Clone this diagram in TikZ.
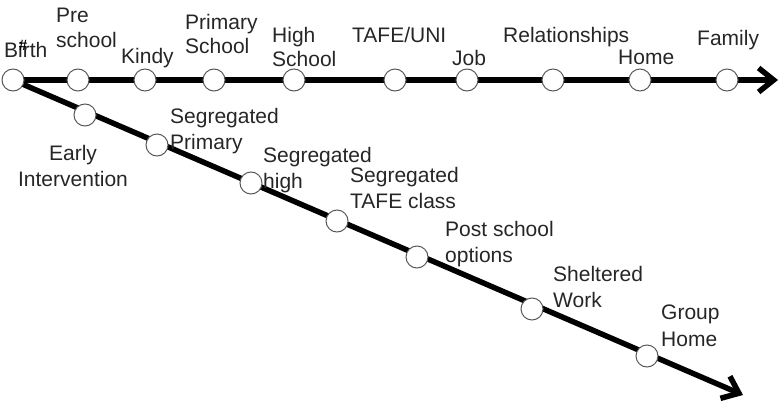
\documentclass[tikz,border=0pt]{standalone}
\usepackage{fontspec}
\setmainfont{Liberation Sans}
\usetikzlibrary{arrows.meta,backgrounds}

\tikzset{
  stop/.style={circle,draw=black!65,line width=1pt,fill=white,minimum size=22pt,inner sep=0pt},
  track/.style={line width=5.5pt,-{Straight Barb[length=15pt,width=24pt]}},
  lbl/.style={inner sep=0pt,anchor=north west,align=left,text=black!85,
    font=\fontsize{21}{24.5}\selectfont},
  lbldown/.style={lbl,font=\fontsize{21}{26.5}\selectfont}
}

\begin{document}
\begin{tikzpicture}[x=1pt,y=-1pt]
\useasboundingbox (0,0) rectangle (780,402);
% mainstream path
\path (13,80) node[stop] (birth) {}
++(65,0) node[stop] (pre) {}
++(67,0) node[stop] (kindy) {}
++(69,0) node[stop] (prim) {}
++(80,0) node[stop] (high) {}
++(101,0) node[stop] (tafe) {}
++(72,0) node[stop] (job) {}
++(86,0) node[stop] (rel) {}
++(87,0) node[stop] (home) {}
++(87,0) node[stop] (fam) {}
(778,80) coordinate (endA);
% segregated path
\path (85,115) node[stop] (early) {}
(157,145) node[stop] (segprim) {}
(251,183) node[stop] (seghigh) {}
(337,221) node[stop] (segtafe) {}
(417,257) node[stop] (post) {}
(532,309) node[stop] (shelt) {}
(647,356) node[stop] (group) {}
(743,395) coordinate (endB);
\begin{scope}[on background layer]
\draw[track] (birth.center) -- (endA);
\draw[track] (birth.center) -- (endB);
\end{scope}
% labels
\node[lbl] (lbirth) at (4,42) {Birth};
\node[inner sep=0pt,font=\bfseries\fontsize{15}{15}\selectfont] (hash) at (23,45) {\#};
\node[lbl] (lpre) at (56,8) {Pre\\school};
\node[lbl] (lkindy) at (121,48) {Kindy};
\node[lbl] (lprim) at (185,14) {Primary\\School};
\node[lbl] (lhigh) at (272,27) {High\\School};
\node[lbl] (ltafe) at (352,27) {TAFE/UNI};
\node[lbl] (ljob) at (452,50) {Job};
\node[lbl] (lrel) at (503,27) {Relationships};
\node[lbl] (lhome) at (618,50) {Home};
\node[lbl] (lfam) at (697,30) {Family};
\node[lbldown,anchor=north,align=center] (learly) at (73,145) {Early\\Intervention};
\node[lbldown] (lsegprim) at (170,108) {Segregated\\Primary};
\node[lbldown] (lseghigh) at (263,147) {Segregated\\high};
\node[lbldown] (lsegtafe) at (350,167) {Segregated\\TAFE class};
\node[lbldown] (lpost) at (445,221) {Post school\\options};
\node[lbldown] (lshelt) at (553,266) {Sheltered\\Work};
\node[lbldown] (lgroup) at (661,305) {Group\\Home};
\end{tikzpicture}
\end{document}
